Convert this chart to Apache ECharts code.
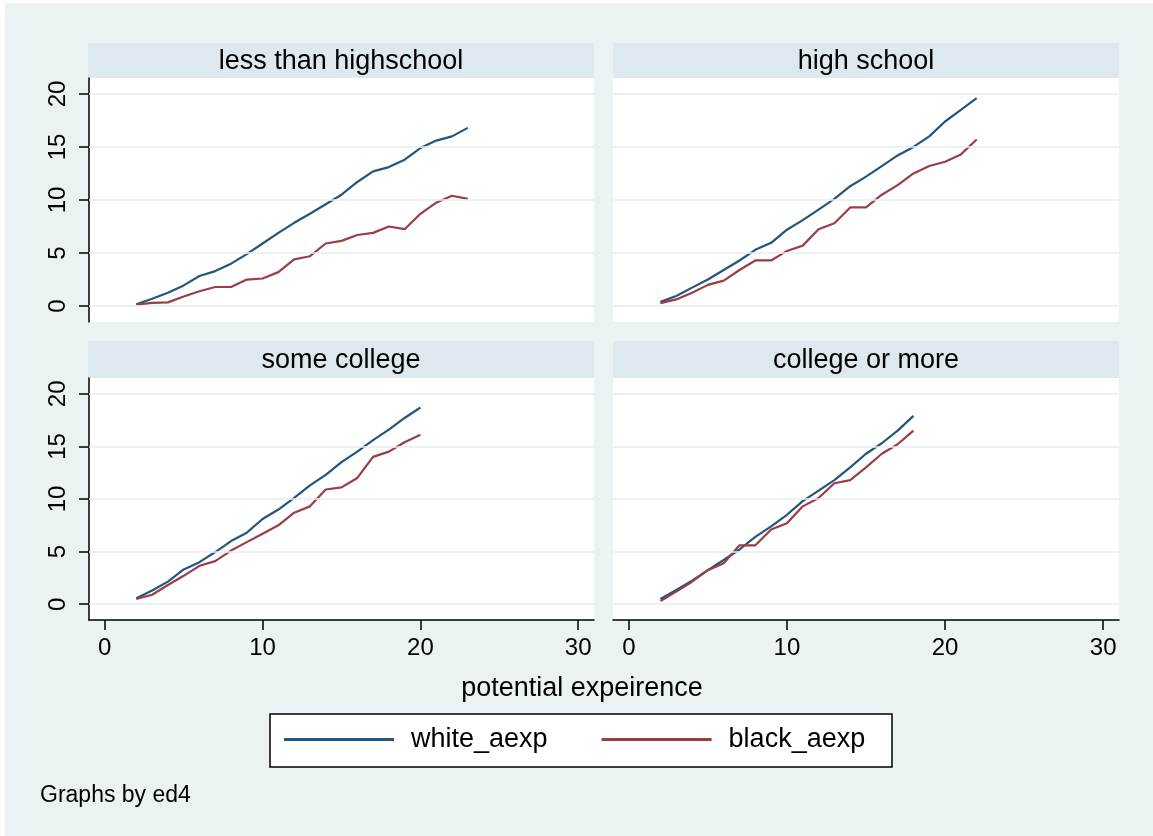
<!DOCTYPE html>
<html>
<head>
<meta charset="utf-8">
<script src="https://cdn.jsdelivr.net/npm/echarts@6/dist/echarts.min.js"></script>
<style>
html,body{margin:0;padding:0;background:#ffffff;}
#bg{position:absolute;left:5px;top:3px;width:1148px;height:833px;background:#EAF2F3;}
#c{position:absolute;left:0;top:0;width:1153px;height:836px;}
</style>
</head>
<body>
<div id="bg"></div>
<div id="c"></div>
<script>
// ---- data ----
const panelTitles = ['less than highschool', 'high school', 'some college', 'college or more'];
const seriesNames = ['white_aexp', 'black_aexp'];
const xTicks = [0, 10, 20, 30];
const yTicks = [0, 5, 10, 15, 20];
const xAxisTitle = 'potential expeirence';
const noteText = 'Graphs by ed4';

const expLtHs = [2,3,4,5,6,7,8,9,10,11,12,13,14,15,16,17,18,19,20,21,22,23];
const whiteLtHs = [0.16,0.7,1.26,1.95,2.84,3.3,4.0,4.9,5.9,6.9,7.85,8.7,9.6,10.5,11.7,12.7,13.1,13.8,14.9,15.6,16.0,16.8];
const blackLtHs = [0.13,0.3,0.35,0.9,1.4,1.8,1.8,2.5,2.6,3.2,4.4,4.7,5.9,6.15,6.7,6.9,7.5,7.25,8.7,9.75,10.4,10.1];

const expHs = [2,3,4,5,6,7,8,9,10,11,12,13,14,15,16,17,18,19,20,21,22];
const whiteHs = [0.4,0.95,1.74,2.5,3.4,4.3,5.3,5.96,7.2,8.1,9.1,10.1,11.3,12.2,13.2,14.2,15.0,16.0,17.4,18.5,19.6];
const blackHs = [0.28,0.63,1.26,2.0,2.4,3.4,4.3,4.3,5.2,5.7,7.25,7.8,9.3,9.3,10.5,11.4,12.5,13.2,13.6,14.3,15.7];

const expSc = [2,3,4,5,6,7,8,9,10,11,12,13,14,15,16,17,18,19,20];
const whiteSc = [0.57,1.3,2.15,3.3,4.0,4.96,6.0,6.8,8.1,9.0,10.1,11.3,12.3,13.5,14.5,15.6,16.6,17.7,18.7];
const blackSc = [0.5,0.9,1.83,2.7,3.65,4.1,5.1,5.9,6.7,7.5,8.7,9.3,10.9,11.1,12.0,14.0,14.5,15.4,16.1];

const expCol = [2,3,4,5,6,7,8,9,10,11,12,13,14,15,16,17,18];
const whiteCol = [0.5,1.35,2.24,3.24,4.2,5.2,6.4,7.4,8.5,9.8,10.8,11.8,13.0,14.3,15.3,16.5,17.9];
const blackCol = [0.3,1.2,2.14,3.24,3.9,5.6,5.6,7.1,7.7,9.3,10.1,11.5,11.8,13.0,14.3,15.2,16.5];

// ---- build ----
const FONT = '"Liberation Sans", Arial, sans-serif';
const BLUE = '#22567F', RED = '#9A3E44';
const panels = [
  {x: expLtHs, w: whiteLtHs, b: blackLtHs},
  {x: expHs, w: whiteHs, b: blackHs},
  {x: expSc, w: whiteSc, b: blackSc},
  {x: expCol, w: whiteCol, b: blackCol}
];
const gridBoxes = [
  {left: 89, top: 78, width: 505, height: 244},
  {left: 613, top: 78, width: 506, height: 244},
  {left: 89, top: 378, width: 505, height: 242},
  {left: 613, top: 378, width: 506, height: 242}
];
const strips = [
  {x: 88, y: 43, w: 506, h: 35},
  {x: 613, y: 43, w: 506, h: 35},
  {x: 88, y: 341, w: 506, h: 37},
  {x: 613, y: 341, w: 506, h: 37}
];

const grids = gridBoxes.map(g => Object.assign({show: true, backgroundColor: '#ffffff', borderWidth: 0}, g));
const pair = (xs, ys) => xs.map((v, i) => [v, ys[i]]);

const xAxes = gridBoxes.map((g, i) => {
  const bottom = i >= 2;
  return {
    type: 'value', gridIndex: i, min: -1, max: 31,
    axisLine: {show: bottom, onZero: false, lineStyle: {color: '#000', width: 1.5}},
    axisTick: {show: bottom, customValues: xTicks, length: 10, lineStyle: {color: '#000', width: 1.5}},
    axisLabel: {show: bottom, customValues: xTicks, margin: 16, fontSize: 24, color: '#000', fontFamily: FONT},
    splitLine: {show: false}
  };
});
const yAxes = gridBoxes.map((g, i) => {
  const left = (i % 2) === 0;
  return {
    type: 'value', gridIndex: i, min: -1.5, max: 21.5,
    axisLine: {show: left, onZero: false, lineStyle: {color: '#000', width: 1.5}},
    axisTick: {show: left, customValues: yTicks, length: 10, lineStyle: {color: '#000', width: 1.5}},
    axisLabel: {show: left, customValues: yTicks, rotate: 90, margin: 19, fontSize: 24, color: '#000', fontFamily: FONT},
    splitLine: {show: false}
  };
});

const series = [];
panels.forEach((p, i) => {
  series.push({
    name: 'gridlines', type: 'line', xAxisIndex: i, yAxisIndex: i, z: 1,
    data: pair(p.x, p.w), showSymbol: false, silent: true,
    lineStyle: {opacity: 0},
    markLine: {
      silent: true, symbol: ['none', 'none'], label: {show: false},
      lineStyle: {color: '#E6EEF0', width: 1.5, type: 'solid'},
      emphasis: {disabled: true},
      animation: false,
      data: yTicks.map(v => ({yAxis: v}))
    }
  });
  series.push({
    name: seriesNames[0], type: 'line', xAxisIndex: i, yAxisIndex: i, z: 3,
    data: pair(p.x, p.w), showSymbol: false, color: BLUE,
    lineStyle: {color: BLUE, width: 2.2}
  });
  series.push({
    name: seriesNames[1], type: 'line', xAxisIndex: i, yAxisIndex: i, z: 3,
    data: pair(p.x, p.b), showSymbol: false, color: RED,
    lineStyle: {color: RED, width: 2.2}
  });
});

const graphic = [];
strips.forEach((s, i) => {
  graphic.push({type: 'rect', shape: {x: s.x, y: s.y, width: s.w, height: s.h}, style: {fill: '#DDE9EE'}, silent: true});
  graphic.push({type: 'text', x: s.x + s.w / 2, y: s.y + s.h / 2 + 1,
    style: {text: panelTitles[i], font: '27px ' + FONT, fill: '#000', textAlign: 'center', textVerticalAlign: 'middle'}, silent: true});
});
graphic.push({type: 'text', x: 582, y: 689,
  style: {text: xAxisTitle, font: '27px ' + FONT, fill: '#000', textAlign: 'center', textVerticalAlign: 'middle'}, silent: true});
graphic.push({type: 'rect', shape: {x: 270, y: 714, width: 622, height: 53},
  style: {fill: '#ffffff', stroke: '#000', lineWidth: 1.5}, silent: true});
graphic.push({type: 'text', x: 40, y: 796,
  style: {text: noteText, font: '23px ' + FONT, fill: '#000', textAlign: 'left', textVerticalAlign: 'middle'}, silent: true});

const option = {
  animation: false,
  backgroundColor: 'transparent',
  grid: grids,
  xAxis: xAxes,
  yAxis: yAxes,
  legend: {
    data: seriesNames, left: 284, top: 726, padding: 0, z: 10,
    icon: 'rect', itemWidth: 110, itemHeight: 3, itemGap: 54,
    textStyle: {fontSize: 27, color: '#000', fontFamily: FONT, padding: [0, 0, 0, 12]}
  },
  graphic: graphic,
  series: series
};
const chart = echarts.init(document.getElementById('c'), null, {renderer: 'canvas'});
chart.setOption(option);
</script>
</body>
</html>
